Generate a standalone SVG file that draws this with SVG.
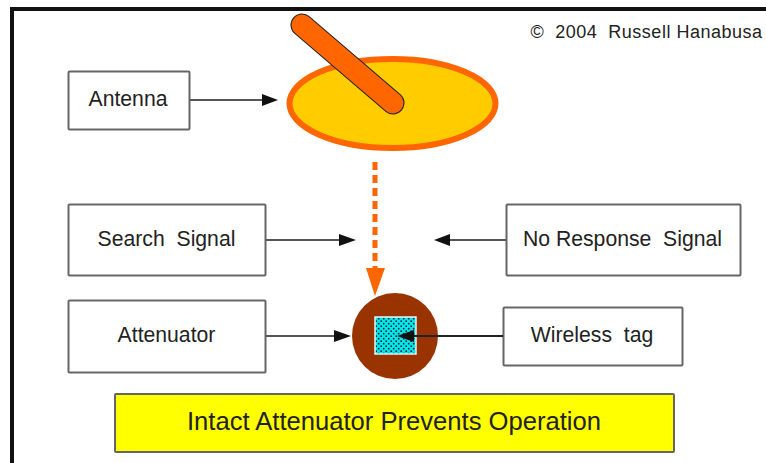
<svg xmlns="http://www.w3.org/2000/svg" width="766" height="463" viewBox="0 0 766 463">
<style>
text{font-family:"Liberation Sans",Arial,sans-serif;fill:#222;text-anchor:middle;white-space:pre}
.b{fill:#fff;stroke:#666;stroke-width:2}
.l{font-size:21.2px}
.c{stroke:#555;stroke-width:2;fill:none}
.c2{stroke:#222;stroke-width:2;fill:none}
</style>
<defs>
<pattern id="dots" width="5" height="5" patternUnits="userSpaceOnUse">
<rect width="5" height="5" fill="#00e8e8"/>
<circle cx="1.2" cy="1.2" r="0.9" fill="#024"/>
<circle cx="3.7" cy="3.7" r="0.9" fill="#024"/>
</pattern>
</defs>
<rect width="766" height="463" fill="#fff"/>
<path id="frame" d="M12 463V9H766" fill="none" stroke="#111" stroke-width="4"/>
<text x="646.500" y="38" font-size="18" letter-spacing="0.5">©  2004  Russell Hanabusa</text>
<g id="dish">
<ellipse cx="392.500" cy="103.500" rx="103" ry="44.500" fill="#fc0" stroke="#f60" stroke-width="6"/>
<line x1="302" y1="25" x2="393" y2="103" stroke="#222" stroke-width="23" stroke-linecap="round"/>
<line x1="302" y1="25" x2="393" y2="103" stroke="#f60" stroke-width="21" stroke-linecap="round"/>
</g>
<g id="antenna"><rect class="b" x="68.500" y="71.500" width="121" height="58" rx="1"/><text class="l" x="128" y="106">Antenna</text></g>
<g id="search"><rect class="b" x="68.500" y="204.500" width="197" height="71" rx="1"/><text class="l" x="166.500" y="246">Search  Signal</text></g>
<g id="noresponse"><rect class="b" x="506.500" y="204.500" width="234" height="71" rx="1"/><text class="l" x="622.500" y="246">No Response  Signal</text></g>
<g id="attenuator"><rect class="b" x="68.500" y="300.500" width="197" height="72" rx="1"/><text class="l" x="166.500" y="342">Attenuator</text></g>
<g id="tagbox"><rect class="b" x="503.500" y="307.500" width="179" height="58" rx="1"/><text class="l" x="592" y="342">Wireless  tag</text></g>
<g id="tag">
<circle cx="395" cy="336" r="43" fill="#930"/>
<rect x="375" y="317" width="41" height="37" fill="url(#dots)" stroke="#e8f4f4" stroke-width="1.500"/>
</g>
<g id="caption"><rect x="115" y="394" width="559" height="58" rx="1" fill="#ff0" stroke="#666" stroke-width="2"/><text x="394" y="430" font-size="25.600" fill="#222">Intact Attenuator Prevents Operation</text></g>
<g id="connectors">
<path class="c" d="M190 100H264"/><path d="M262 94L278 100L262 106Z" fill="#111"/>
<path class="c" d="M266 240H342"/><path d="M339 234L356 240L339 246Z" fill="#111"/>
<path class="c" d="M506 240H449"/><path d="M450 234L434 240L450 246Z" fill="#111"/>
<path class="c" d="M266 336H337"/><path d="M334 330L351 336L334 342Z" fill="#111"/>
<path class="c2" d="M503 336H412"/><path d="M414 330L397 336L414 342Z" fill="#111"/>
<path d="M375 162V268" stroke="#f60" stroke-width="5" stroke-dasharray="8 5" fill="none"/>
<path d="M366 268H385L375 296Z" fill="#f60"/>
</g>
</svg>
